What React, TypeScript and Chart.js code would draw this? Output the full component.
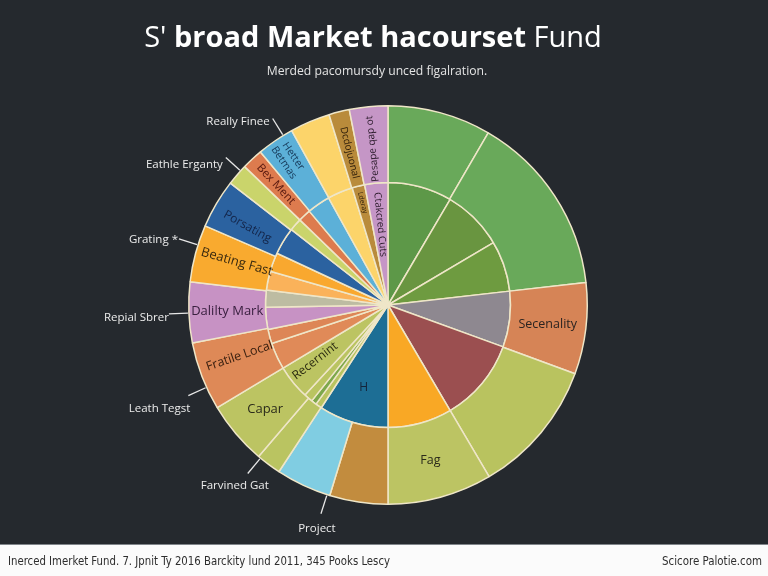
import React, { useEffect, useRef } from "react";
import { Chart, registerables } from "chart.js";

Chart.register(...registerables);

// ---------- data ----------
const TITLE_PARTS = ["S' ", "broad Market hacourset", " Fund"];
const SUBTITLE = "Merded pacomursdy unced figalration.";
const FOOTER_LEFT = "Inerced Imerket Fund. 7. Jpnit Ty 2016 Barckity lund 2011, 345 Pooks Lescy";
const FOOTER_RIGHT = "Scicore Palotie.com";

// outer ring (clockwise from 12 o'clock)
const outerCategories = [
  "Growth A", "Growth B", "Secenality", "Mid Blend", "Fag", "Bonds", "Project",
  "Farvined Gat", "Capar", "Fratile Local", "Dalilty Mark", "Beating Fast",
  "Porsating", "Eathle Erganty", "Bex Ment", "Hetter Betmas", "Really Finee",
  "Dcdojuonal", "Pesape qap ot",
];
const outerValues = [30.2, 53.3, 26.7, 39.3, 30.5, 17, 16.2, 7.3, 18.5, 20, 17.7, 16.7, 14.3, 6.3, 6.2, 10.9, 11.7, 6, 11.2];
const outerColors = [
  "#69a95a", "#69a95a", "#d68456", "#b9c35f", "#bcc463", "#c28c3e", "#80cde2",
  "#bac461", "#bcc462", "#de8957", "#c792c4", "#f9aa2f", "#2b62a0", "#cad46b",
  "#dd7b4e", "#5cb0d8", "#fcd46a", "#b98b3b", "#c596c6",
];

// inner ring (clockwise from 12 o'clock)
const innerCategories = [
  "Core A", "Core B", "Core C", "Grey", "Red", "Amber", "H", "Thin A", "Thin B",
  "Thin C", "Recernint", "Orange A", "Orange B", "Purple", "Beige", "Light Orange",
  "Orange C", "Blue", "Light Green", "Red Orange", "Light Blue", "Yellow", "Lderay",
  "Ctakcred Cuts",
];
const innerValues = [30.5, 28.9, 24.1, 26.5, 39.5, 30.5, 33, 3, 2.5, 4.2, 16.3, 12.7, 6.8, 10.5, 8, 9, 9, 13, 6, 6, 11, 12, 6, 11];
const innerColors = [
  "#5d9848", "#699540", "#6e9b40", "#8e8890", "#9b4f50", "#f9a825", "#1d6e95",
  "#b9c460", "#7da84b", "#bac461", "#bcc462", "#e08a58", "#dd8656", "#c792c4",
  "#bdbca2", "#fab25a", "#f9a82f", "#2b62a0", "#cad46b", "#dd7b4e", "#5cb0d8",
  "#fcd46a", "#b98b3b", "#c596c6",
];

// ---------- label styling (annotations) ----------
type InLabel = { ds: number; idx: number; lines: string[]; rf: number; mode: "h" | "r" | "ro"; size: number; color: string; frac?: number };
const insideLabels: InLabel[] = [
  { ds: 0, idx: 2, lines: ["Secenality"], rf: 0.5, mode: "h", size: 12.5, color: "#2a2320" },
  { ds: 0, idx: 4, lines: ["Fag"], rf: 0.5, mode: "h", size: 12.5, color: "#2a2a1a" },
  { ds: 0, idx: 8, lines: ["Capar"], rf: 0.5, mode: "h", size: 13, color: "#2a2a1a" },
  { ds: 0, idx: 9, lines: ["Fratile Local"], rf: 0.45, mode: "r", size: 12.5, color: "#3a2010", frac: 0.6 },
  { ds: 0, idx: 10, lines: ["Dalilty Mark"], rf: 0.5, mode: "h", size: 13, color: "#3a2040" },
  { ds: 0, idx: 11, lines: ["Beating Fast"], rf: 0.45, mode: "r", size: 13, color: "#3a2a10", frac: 0.55 },
  { ds: 0, idx: 12, lines: ["Porsating"], rf: 0.5, mode: "r", size: 12, color: "#14264a", frac: 0.4 },
  { ds: 0, idx: 14, lines: ["Bex Ment"], rf: 0.55, mode: "r", size: 11.5, color: "#5a1a10" },
  { ds: 0, idx: 15, lines: ["Hetter", "Betmas"], rf: 0.7, mode: "r", size: 10.5, color: "#173a5a" },
  { ds: 0, idx: 17, lines: ["Dcdojuonal"], rf: 0.45, mode: "r", size: 10, color: "#2a1a08" },
  { ds: 0, idx: 18, lines: ["Pesape qap ot"], rf: 0.45, mode: "ro", size: 10, color: "#2a1a2a" },
  { ds: 1, idx: 6, lines: ["H"], rf: 0.7, mode: "h", size: 12, color: "#14243a" },
  { ds: 1, idx: 10, lines: ["Recernint"], rf: 0.75, mode: "r", size: 12, color: "#2a2a10", frac: 0.6 },
  { ds: 1, idx: 22, lines: ["Lderay"], rf: 0.86, mode: "r", size: 7, color: "#2a1a08" },
  { ds: 1, idx: 23, lines: ["Ctakcred Cuts"], rf: 0.66, mode: "r", size: 10, color: "#2a1a2a" },
];

type ExLabel = { idx: number; frac: number; text: string; align: "right" | "center"; tx: number; ty: number };
const externalLabels: ExLabel[] = [
  { idx: 15, frac: 0.74, text: "Really Finee", align: "right", tx: -3, ty: 3 },
  { idx: 13, frac: 0.73, text: "Eathle Erganty", align: "right", tx: -3, ty: 7 },
  { idx: 11, frac: 0.65, text: "Grating *", align: "right", tx: -1, ty: 1 },
  { idx: 10, frac: 0.49, text: "Repial Sbrer", align: "right", tx: 0, ty: 4 },
  { idx: 9, frac: 0.33, text: "Leath Tegst", align: "right", tx: 2, ty: 13 },
  { idx: 7, frac: 0.9, text: "Farvined Gat", align: "center", tx: -13, ty: 12 },
  { idx: 6, frac: 0.05, text: "Project", align: "center", tx: -4, ty: 15 },
];

const BG = "#25292e";
const FONT = "'Open Sans', 'Noto Sans', sans-serif";

function pt(arc: any, frac: number, rf: number) {
  const a = arc.startAngle + (arc.endAngle - arc.startAngle) * frac;
  const r = arc.innerRadius + (arc.outerRadius - arc.innerRadius) * rf;
  return { x: arc.x + r * Math.cos(a), y: arc.y + r * Math.sin(a), a, r };
}

const annotPlugin = {
  id: "annot",
  beforeDraw(chart: any) {
    const { ctx, width, height } = chart;
    ctx.save();
    ctx.fillStyle = BG;
    ctx.fillRect(0, 0, width, 545);
    ctx.fillStyle = "#fbfbfb";
    ctx.fillRect(0, 545, width, height - 545);
    ctx.fillStyle = "#80858a";
    ctx.fillRect(0, 544, width, 1);
    ctx.restore();
  },
  afterDatasetsDraw(chart: any) {
    const { ctx } = chart;
    ctx.save();
    for (const L of insideLabels) {
      const arc = chart.getDatasetMeta(L.ds).data[L.idx];
      if (!arc) continue;
      const p = pt(arc, L.frac ?? 0.5, L.rf);
      ctx.save();
      ctx.translate(p.x, p.y);
      if (L.mode === "r") ctx.rotate(p.a + Math.PI);
      else if (L.mode === "ro") ctx.rotate(p.a);
      ctx.fillStyle = L.color;
      ctx.font = `${L.size}px ${FONT}`;
      ctx.textAlign = "center";
      ctx.textBaseline = "middle";
      const lh = L.size * 1.1;
      L.lines.forEach((s, i) => ctx.fillText(s, 0, (i - (L.lines.length - 1) / 2) * lh));
      ctx.restore();
    }
    const meta = chart.getDatasetMeta(0);
    for (const E of externalLabels) {
      const arc = meta.data[E.idx];
      if (!arc) continue;
      const p0 = pt(arc, E.frac, 1);
      const ux = Math.cos(p0.a), uy = Math.sin(p0.a);
      const start = { x: p0.x + ux * 1, y: p0.y + uy * 1 };
      const end = { x: p0.x + ux * 20, y: p0.y + uy * 20 };
      ctx.strokeStyle = "#e8e8e8";
      ctx.lineWidth = 1.3;
      ctx.beginPath();
      ctx.moveTo(start.x, start.y);
      ctx.lineTo(end.x, end.y);
      ctx.stroke();
      ctx.fillStyle = "#ececec";
      ctx.font = `11.5px ${FONT}`;
      ctx.textAlign = E.align;
      ctx.textBaseline = "middle";
      ctx.fillText(E.text, end.x + E.tx, end.y + E.ty);
    }
    ctx.restore();
  },
  afterDraw(chart: any) {
    const { ctx, width } = chart;
    ctx.save();
    const fonts = [`29px ${FONT}`, `bold 29px ${FONT}`, `29px ${FONT}`];
    const widths = TITLE_PARTS.map((t, i) => {
      ctx.font = fonts[i];
      return ctx.measureText(t).width;
    });
    const total = widths.reduce((a, b) => a + b, 0);
    let x = 373 - total / 2;
    ctx.fillStyle = "#ffffff";
    ctx.textBaseline = "alphabetic";
    ctx.textAlign = "left";
    TITLE_PARTS.forEach((t, i) => {
      ctx.font = fonts[i];
      ctx.fillText(t, x, 47);
      x += widths[i];
    });
    ctx.font = `12.2px ${FONT}`;
    ctx.fillStyle = "#e4e4e4";
    ctx.textAlign = "center";
    ctx.fillText(SUBTITLE, 377, 75);
    ctx.fillStyle = "#2e2e2e";
    ctx.font = `12.5px 'Liberation Sans Narrow', 'DejaVu Sans Condensed', ${FONT}`;
    ctx.textAlign = "left";
    ctx.fillText(FOOTER_LEFT, 8, 565, 382);
    ctx.textAlign = "right";
    ctx.fillText(FOOTER_RIGHT, width - 6, 565, 100);
    ctx.restore();
  },
};

export default function App() {
  const ref = useRef<HTMLCanvasElement | null>(null);
  useEffect(() => {
    if (!ref.current) return;
    const chart = new Chart(ref.current, {
      type: "doughnut",
      data: {
        labels: outerCategories,
        datasets: [
          {
            label: "Outer",
            data: outerValues,
            backgroundColor: outerColors,
            borderColor: "#efe6c8",
            borderWidth: 1.5,
            weight: 77,
          } as any,
          {
            label: "Inner",
            data: innerValues,
            backgroundColor: innerColors,
            borderColor: "#efe6c8",
            borderWidth: 1.5,
            weight: 123,
          } as any,
        ],
      },
      options: {
        responsive: false,
        animation: false,
        events: [],
        cutout: 0,
        layout: { padding: { top: 105, bottom: 71, left: 188, right: 180 } },
        plugins: {
          legend: { display: false },
          tooltip: { enabled: false },
          title: { display: false },
        },
      },
      plugins: [annotPlugin],
    });
    return () => chart.destroy();
  }, []);
  return (
    <div style={{ position: "fixed", left: 0, top: 0, width: 768, height: 576, background: BG }}>
      <canvas ref={ref} width={768} height={576} style={{ display: "block", width: 768, height: 576 }} />
    </div>
  );
}
